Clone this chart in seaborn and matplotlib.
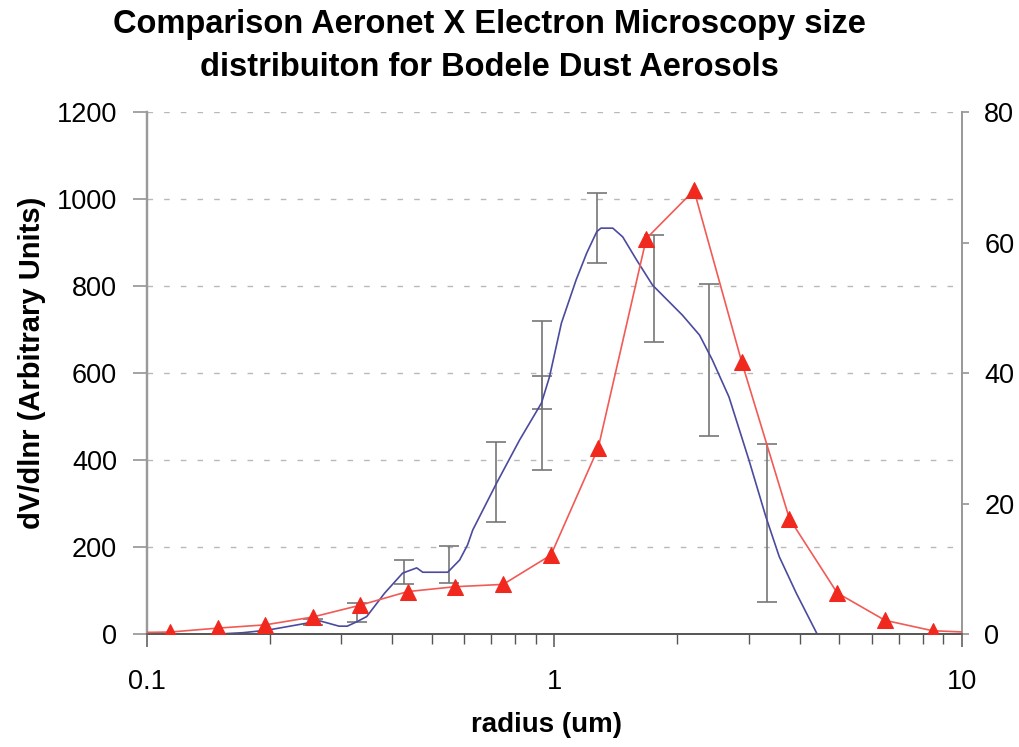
import numpy as np
import pandas as pd
import matplotlib
matplotlib.use("Agg")
import matplotlib.pyplot as plt
from matplotlib.ticker import FixedLocator, LogLocator, NullFormatter, FixedFormatter
import seaborn as sns

# Aeronet inversion: volume size distribution (left axis)
aeronet_radius = [0.15, 0.172, 0.198, 0.247, 0.266, 0.296, 0.31, 0.327, 0.346, 0.383,
                  0.424, 0.459, 0.475, 0.547, 0.585, 0.612, 0.630, 0.721, 0.821, 0.929,
                  0.972, 1.04, 1.13, 1.20, 1.27, 1.30, 1.39, 1.47, 1.59, 1.74,
                  2.06, 2.27, 2.44, 2.68, 3.00, 3.30, 3.56, 3.92, 4.41]
aeronet_dvdlnr = [0, 3, 9, 25, 30, 18, 18, 28, 40, 94,
                  140, 152, 142, 142, 170, 205, 239, 347, 446, 531,
                  591, 715, 814, 876, 925, 933, 933, 913, 860, 802,
                  733, 687, 630, 545, 400, 270, 178, 94, 0]

# Variability of the Aeronet retrievals
err_radius = [0.255, 0.327, 0.427, 0.55, 0.72, 0.93, 0.93, 1.27, 1.75, 2.4, 3.33]
err_center = [27, 50, 143, 160, 350, 548, 555, 933, 795, 630, 255]
err_half = [7, 22, 27, 43, 92, 172, 38, 80, 123, 174, 181]

# Electron microscopy size distribution (right axis)
em_radius = [0.087, 0.114, 0.149, 0.195, 0.255, 0.333, 0.436, 0.571, 0.748, 0.98,
             1.28, 1.68, 2.2, 2.88, 3.77, 4.94, 6.47, 8.47, 11.08]
em_counts = [0.2, 0.3, 0.9, 1.4, 2.6, 4.4, 6.5, 7.25, 7.6, 12.1,
             28.5, 60.6, 68.0, 41.7, 17.7, 6.3, 2.1, 0.5, 0.2]

left_ticks = [0, 200, 400, 600, 800, 1000, 1200]
right_ticks = [0, 20, 40, 60, 80]
x_ticks = [0.1, 1, 10]
x_tick_labels = ["0.1", "1", "10"]

sns.set_style("white")
plt.rcParams["font.family"] = ["Liberation Sans", "DejaVu Sans"]
plt.rcParams["text.color"] = "black"
plt.rcParams["axes.labelcolor"] = "black"
plt.rcParams["xtick.labelcolor"] = "black"
plt.rcParams["ytick.labelcolor"] = "black"

BLUE = "#4b4a9e"
RED_LINE = "#f25a55"
RED_MARK = "#f0281e"
GRAY = "#777777"

fig = plt.figure(figsize=(10.2, 7.47), dpi=100)
ax = fig.add_axes([147 / 1020, 1 - 634 / 747, (962 - 147) / 1020, (634 - 112) / 747])
ax2 = ax.twinx()

aero = pd.DataFrame({"radius": aeronet_radius, "dvdlnr": aeronet_dvdlnr})
em = pd.DataFrame({"radius": em_radius, "counts": em_counts})

# dashed horizontal gridlines on the left-axis ticks
for v in left_ticks[1:]:
    ax.axhline(v, color="#b8b8b8", lw=1.0, ls=(0, (4, 8)), zorder=0)

ax.errorbar(err_radius, err_center, yerr=err_half, fmt="none", ecolor=GRAY,
            elinewidth=1.2, capsize=7, capthick=1.2, zorder=2)
sns.lineplot(data=aero, x="radius", y="dvdlnr", ax=ax, color=BLUE, lw=1.2,
             sort=False, zorder=3)
sns.lineplot(data=em, x="radius", y="counts", ax=ax2, color=RED_LINE, lw=1.2,
             sort=False, marker="^", markersize=11, markerfacecolor=RED_MARK,
             markeredgecolor=RED_MARK, zorder=4)

ax.set_xscale("log")
ax.set_xlim(0.1, 10)
ax.set_ylim(0, 1200)
ax2.set_ylim(0, 80)

ax.xaxis.set_major_locator(FixedLocator(x_ticks))
ax.xaxis.set_major_formatter(FixedFormatter(x_tick_labels))
ax.xaxis.set_minor_locator(LogLocator(base=10, subs=np.arange(2, 10)))
ax.xaxis.set_minor_formatter(NullFormatter())
ax.set_yticks(left_ticks)
ax2.set_yticks(right_ticks)

ax.tick_params(axis="x", which="major", direction="out", length=9, width=1.1,
               color="#555555", labelsize=19.5, pad=16.5, bottom=True)
ax.tick_params(axis="x", which="minor", direction="out", length=7, width=1.0,
               color="#555555", bottom=True)
ax.tick_params(axis="y", direction="out", length=10, width=1.1, color="#8a8a8a",
               labelsize=19.5, pad=11.5, left=True)
ax2.tick_params(axis="y", direction="out", length=5, width=1.1, color="#8a8a8a",
                labelsize=19.5, pad=11, right=True)

for a in (ax, ax2):
    a.spines["top"].set_visible(False)
    a.spines["left"].set_color("#9a9a9a")
    a.spines["left"].set_linewidth(1.6)
    a.spines["right"].set_color("#9a9a9a")
    a.spines["right"].set_linewidth(1.4)
    a.spines["bottom"].set_color("#555555")
    a.spines["bottom"].set_linewidth(1.2)

ax2.set_ylabel("")
ax.set_ylabel("dV/dlnr (Arbitrary Units)", fontsize=21, fontweight="bold")
ax.yaxis.set_label_coords(-0.124, 0.519)
ax.set_xlabel("radius (um)", fontsize=20, fontweight="bold")
ax.xaxis.set_label_coords(0.49, -0.149)

fig.text(489 / 1020, 1 - 24 / 747, "Comparison Aeronet X Electron Microscopy size",
         ha="center", va="center", fontsize=23.5, fontweight="bold")
fig.text(489 / 1020, 1 - 68 / 747, "distribuiton for Bodele Dust Aerosols",
         ha="center", va="center", fontsize=23.5, fontweight="bold")

fig.savefig("out.png", dpi=100, facecolor="white")
